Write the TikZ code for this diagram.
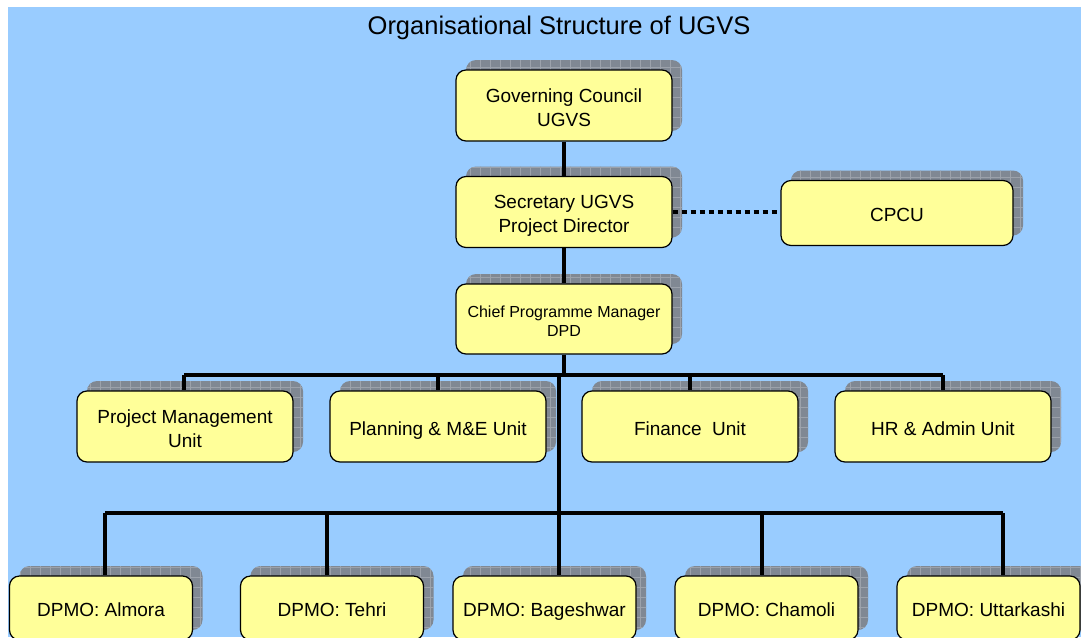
\documentclass[tikz,border=0pt]{standalone}
\usepackage{fontspec}
\setmainfont{Liberation Sans}
\usepackage{tikz}
\usepackage{xcolor}
\usetikzlibrary{shadows,patterns.meta}
\definecolor{sky}{HTML}{99CCFF}
\definecolor{paleyellow}{HTML}{FFFF99}
\definecolor{shadowgray}{HTML}{808893}
\definecolor{gridgray}{HTML}{9CA2AB}
\newcommand{\boxstrut}{\rule[-.3\baselineskip]{0pt}{\dimexpr\baselineskip+8pt\relax}}
\tikzset{
    unit-box/.style = {draw=black, fill=paleyellow, line width=1.2pt, rectangle, rounded corners=10pt, align=center, inner sep=0pt, font=\fontsize{19}{24}\selectfont, minimum width=216pt, minimum height=71pt, execute at end node=\strut, general shadow={shadow xshift=10pt, shadow yshift=10pt, fill=shadowgray, draw=none, postaction={pattern={Hatch[distance=10pt, line width=0.5pt]}, pattern color=gridgray}}},
    district-box/.style = {unit-box, minimum width=183pt, minimum height=64pt},
    link/.style = {line width=3.5pt},
    dotted-link/.style = {line width=4pt, dash pattern=on 5pt off 4pt},
}

\begin{document}
\begin{tikzpicture}[x=1pt, y=-1pt]
\useasboundingbox (0,0) rectangle (1081,637);
\clip (0,0) rectangle (1081,637);
\fill[sky] (8,7) rectangle (1081,637);
\node[font=\fontsize{25.5}{30}\selectfont] (title) at (559,28) {Organisational Structure of UGVS};

\node[unit-box] (council) at (564,105.5) {\boxstrut Governing Council\\UGVS};
\node[unit-box] (secretary) at (564,212) {\boxstrut Secretary UGVS\\Project Director};
\node[unit-box, minimum width=232pt, minimum height=65pt] (cpcu) at (897,213) {\boxstrut CPCU};
\node[unit-box, font=\fontsize{16}{19}\selectfont, minimum height=70pt] (chief) at (564,319) {\boxstrut Chief Programme Manager\\DPD};

\node[unit-box] (pmu) at (185,426.5) {\boxstrut Project Management\\Unit};
\node[unit-box] (planning) at (438,426.5) {\boxstrut Planning \& M\&E Unit};
\node[unit-box] (finance) at (690,426.5) {\boxstrut Finance\ \ Unit};
\node[unit-box] (hr) at (943,426.5) {\boxstrut HR \& Admin Unit};

\node[district-box] (almora) at (101,608) {\boxstrut DPMO: Almora};
\node[district-box] (tehri) at (332,608) {\boxstrut DPMO: Tehri};
\node[district-box] (bageshwar) at (544.5,608) {\boxstrut DPMO: Bageshwar};
\node[district-box] (chamoli) at (766.5,608) {\boxstrut DPMO: Chamoli};
\node[district-box] (uttarkashi) at (988.5,608) {\boxstrut DPMO: Uttarkashi};

\coordinate (unit-bar-l) at (184,375);
\coordinate (unit-bar-r) at (943,375);
\coordinate (district-top) at (559,375);
\coordinate (district-bar-l) at (105,513);
\coordinate (district-bar-r) at (1003,513);

\draw[link] (council) -- (secretary);
\draw[link] (secretary) -- (chief);
\draw[dotted-link] (secretary.east) -- (secretary.east -| cpcu.west);
\draw[link] (chief.south) -- (chief.south |- unit-bar-l);

\draw[link] (unit-bar-l) -- (unit-bar-r);
\draw[link] (unit-bar-l) -- (unit-bar-l |- pmu.north);
\draw[link] (planning.north |- unit-bar-l) -- (planning.north);
\draw[link] (finance.north |- unit-bar-l) -- (finance.north);
\draw[link] (unit-bar-r) -- (unit-bar-r |- hr.north);

\draw[link] (district-top) -- (district-top |- district-bar-l);
\draw[link] (district-bar-l) -- (district-bar-r);
\draw[link] (district-bar-l) -- (district-bar-l |- almora.north);
\draw[link] (327,513) -- (327,513 |- tehri.north);
\draw[link] (559,513) -- (559,513 |- bageshwar.north);
\draw[link] (762,513) -- (762,513 |- chamoli.north);
\draw[link] (district-bar-r) -- (district-bar-r |- uttarkashi.north);
\end{tikzpicture}
\end{document}
